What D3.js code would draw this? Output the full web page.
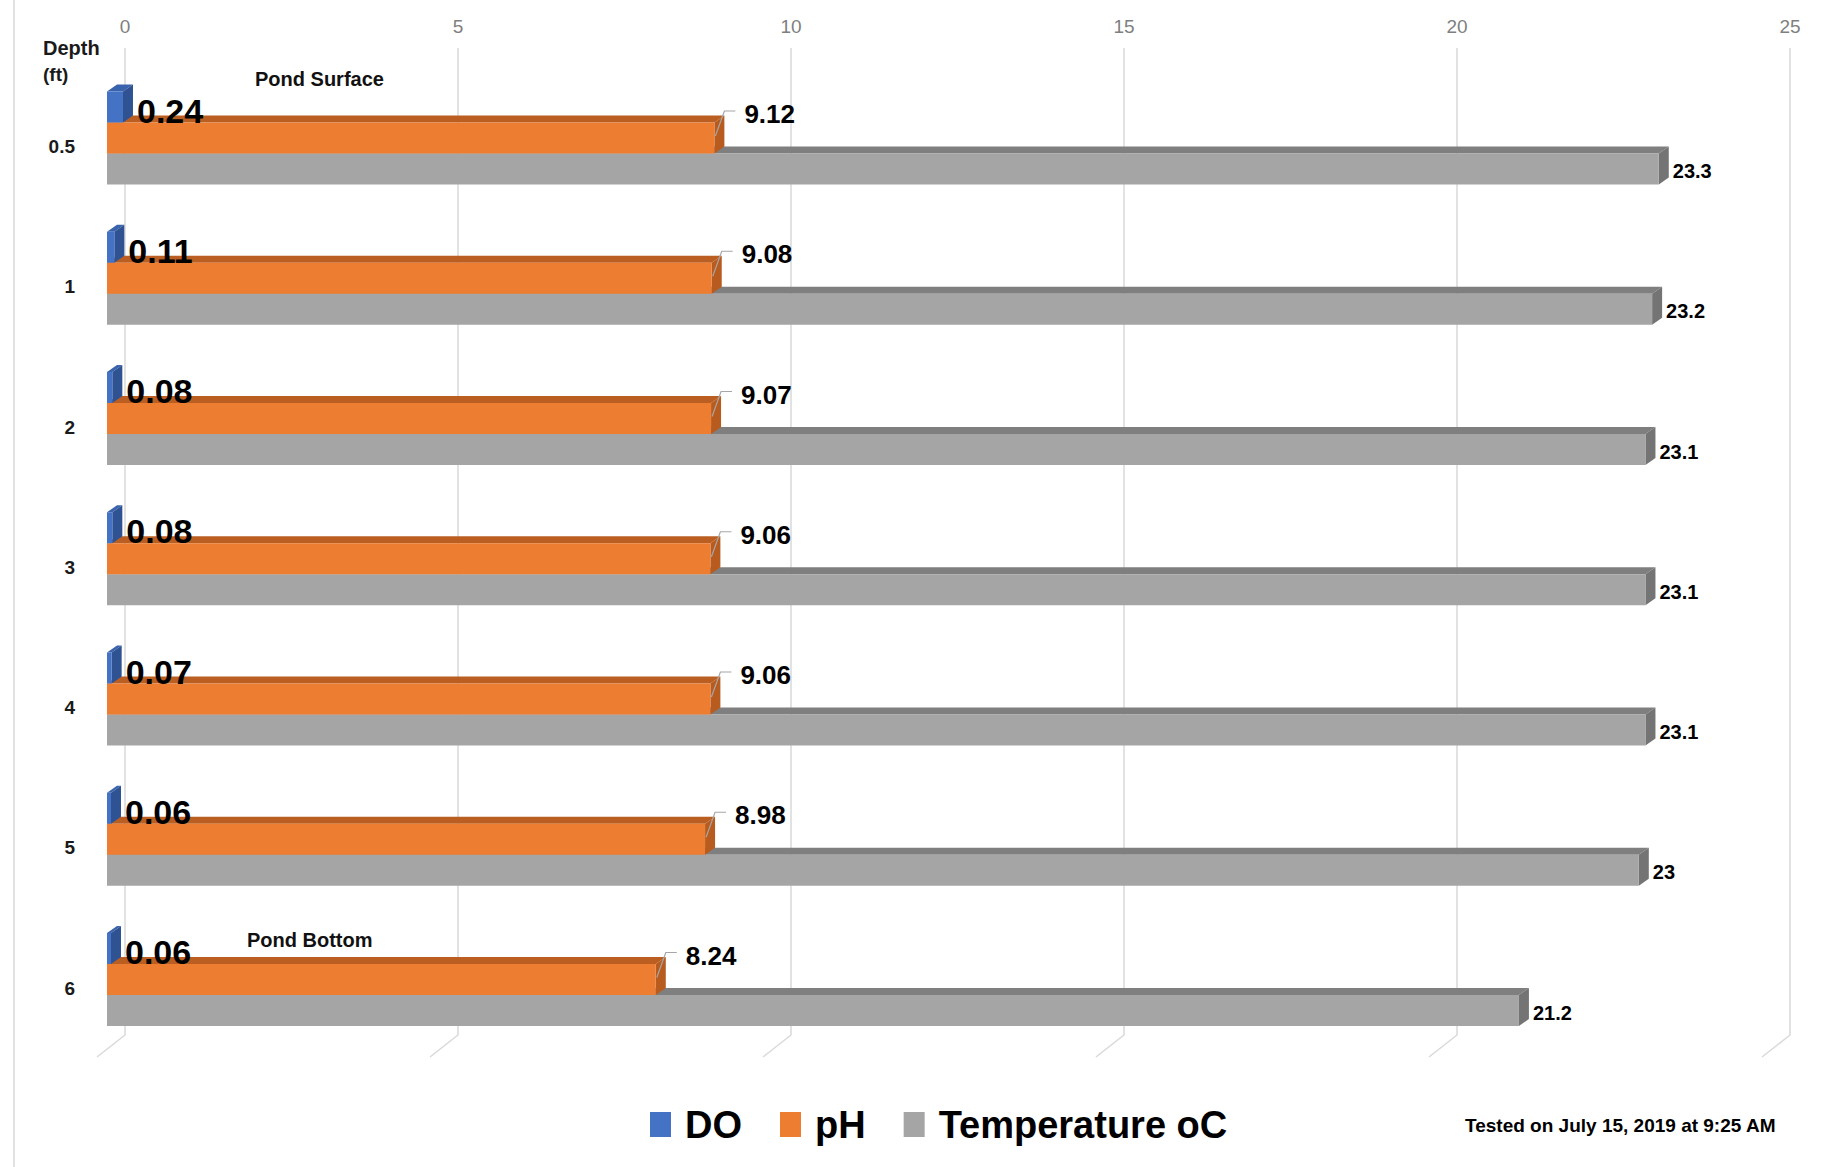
<!DOCTYPE html>
<html>
<head>
<meta charset="utf-8">
<script src="https://cdn.jsdelivr.net/npm/d3@7"></script>
<style>
  html, body { margin: 0; padding: 0; background: #ffffff; }
  svg { display: block; }
  text { font-family: "Liberation Sans", Arial, sans-serif; }
</style>
</head>
<body>
<svg id="chart" width="1845" height="1167"></svg>
<script>
// Pond profile readings by depth (ft)
const depths = ["0.5", "1", "2", "3", "4", "5", "6"];
const doValues = [0.24, 0.11, 0.08, 0.08, 0.07, 0.06, 0.06];
const phValues = [9.12, 9.08, 9.07, 9.06, 9.06, 8.98, 8.24];
const tempValues = [23.3, 23.2, 23.1, 23.1, 23.1, 23, 21.2];
const seriesNames = ["DO", "pH", "Temperature oC"];
const xTicks = [0, 5, 10, 15, 20, 25];

const W = 1845, H = 1167;
const svg = d3.select("#chart");

// back-wall value scale and category positions
const x = d3.scaleLinear().domain([0, 25]).range([125, 1790]);
const y = d3.scalePoint().domain(depths).range([138, 979.5]);

// oblique 3D projection of the bars
const frontShift = -18;   // front faces sit forward/left of the back wall
const dx = 10, dy = -7;   // depth vector
const barH = 31;
const wallTop = 48, wallBottom = 1035;
const floorDx = -28, floorDy = 22;

const series = [
  { name: seriesNames[0], values: doValues,   offset: -1.5, front: "#4472C4", top: "#3A63AE", side: "#2E5292" },
  { name: seriesNames[1], values: phValues,   offset: -0.5, front: "#ED7D31", top: "#BA5E22", side: "#B85B1F" },
  { name: seriesNames[2], values: tempValues, offset:  0.5, front: "#A5A5A5", top: "#7F7F7F", side: "#747474" }
];

// chart-area left edge
svg.append("line")
  .attr("x1", 14).attr("x2", 14).attr("y1", 0).attr("y2", H)
  .attr("stroke", "#D9D9D9").attr("stroke-width", 1.5);

// gridlines on the back wall plus their floor segments
const grid = svg.append("g");
grid.selectAll("path").data(xTicks).join("path")
  .attr("d", t => `M${x(t)},${wallTop}V${wallBottom}l${floorDx},${floorDy}`)
  .attr("fill", "none").attr("stroke", "#D9D9D9").attr("stroke-width", 1.5);

// top tick labels
svg.append("g").selectAll("text").data(xTicks).join("text")
  .attr("x", t => x(t)).attr("y", 33)
  .attr("text-anchor", "middle")
  .attr("font-size", 19).attr("fill", "#7F7F7F")
  .text(t => t);

// bars: draw lowest series first so the ones above cover their top faces
const barsG = svg.append("g");
const x0 = x(0) + frontShift;
depths.forEach((d, i) => {
  const yc = y(d);
  [...series].reverse().forEach(s => {
    const v = s.values[i];
    const x1 = x(v) + frontShift;
    const y0 = yc + s.offset * barH;
    const y1 = y0 + barH;
    const g = barsG.append("g");
    g.append("polygon")
      .attr("points", [[x0, y0], [x0 + dx, y0 + dy], [x1 + dx, y0 + dy], [x1, y0]].join(" "))
      .attr("fill", s.top);
    g.append("polygon")
      .attr("points", [[x1, y0], [x1 + dx, y0 + dy], [x1 + dx, y1 + dy], [x1, y1]].join(" "))
      .attr("fill", s.side);
    g.append("rect")
      .attr("x", x0).attr("y", y0)
      .attr("width", Math.max(0, x1 - x0)).attr("height", barH)
      .attr("fill", s.front);
  });
});

// category labels
svg.append("g").selectAll("text").data(depths).join("text")
  .attr("x", 75).attr("y", d => y(d) + 15)
  .attr("text-anchor", "end")
  .attr("font-size", 19).attr("font-weight", "bold").attr("fill", "#1a1a1a")
  .text(d => d);

// axis title
svg.append("text").attr("x", 43).attr("y", 55)
  .attr("font-size", 20).attr("font-weight", "bold").attr("fill", "#1a1a1a").text("Depth");
svg.append("text").attr("x", 43).attr("y", 81)
  .attr("font-size", 19).attr("font-weight", "bold").attr("fill", "#1a1a1a").text("(ft)");

// DO value labels
const labels = svg.append("g");
depths.forEach((d, i) => {
  const yc = y(d);
  const v = doValues[i];
  labels.append("text")
    .attr("x", x(v) + frontShift + dx + 4)
    .attr("y", yc - 0.5 * barH)
    .attr("font-size", 34).attr("font-weight", "bold").attr("fill", "#000")
    .text(v);
});

// pH value labels with leader lines
depths.forEach((d, i) => {
  const yc = y(d);
  const v = phValues[i];
  const xf = x(v) + frontShift;
  labels.append("path")
    .attr("d", `M${xf + 1},${yc - 2}L${xf + 10},${yc - 27}H${xf + 21}`)
    .attr("fill", "none").attr("stroke", "#A6A6A6").attr("stroke-width", 1.2);
  labels.append("text")
    .attr("x", xf + 30).attr("y", yc - 24 + 9)
    .attr("font-size", 26).attr("font-weight", "bold").attr("fill", "#000")
    .text(v);
});

// temperature value labels
depths.forEach((d, i) => {
  const yc = y(d);
  const v = tempValues[i];
  labels.append("text")
    .attr("x", x(v) + frontShift + dx + 4)
    .attr("y", yc + 40)
    .attr("font-size", 20).attr("font-weight", "bold").attr("fill", "#000")
    .text(v);
});

// annotations
svg.append("text").attr("x", 255).attr("y", y(depths[0]) - 52)
  .attr("font-size", 20).attr("font-weight", "bold").attr("fill", "#111").text("Pond Surface");
svg.append("text").attr("x", 247).attr("y", y(depths[depths.length - 1]) - 33)
  .attr("font-size", 20).attr("font-weight", "bold").attr("fill", "#111").text("Pond Bottom");

// legend
const legend = svg.append("g");
let lx = 650;
series.forEach(s => {
  legend.append("rect")
    .attr("x", lx).attr("y", 1112).attr("width", 21).attr("height", 25)
    .attr("fill", s.front);
  const t = legend.append("text")
    .attr("x", lx + 35).attr("y", 1138)
    .attr("font-size", 38).attr("font-weight", "bold").attr("fill", "#000")
    .text(s.name);
  lx += 35 + t.node().getComputedTextLength() + 38;
});

svg.append("text").attr("x", 1465).attr("y", 1132)
  .attr("font-size", 19).attr("font-weight", "bold").attr("fill", "#000")
  .text("Tested on July 15, 2019 at 9:25 AM");
</script>
</body>
</html>
